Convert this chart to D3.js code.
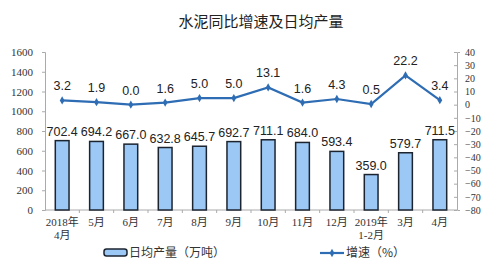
<!DOCTYPE html>
<html>
<head>
<meta charset="utf-8">
<script src="https://cdn.jsdelivr.net/npm/d3@7"></script>
<style>
  body { margin: 0; background: #fff; }
  svg { display: block; }
</style>
</head>
<body>
<div id="chart"></div>
<script>
// data
var categories = ["2018年|4月", "5月", "6月", "7月", "8月", "9月", "10月", "11月", "12月", "2019年|1-2月", "3月", "4月"];
var output = [702.4, 694.2, 667.0, 632.8, 645.7, 692.7, 711.1, 684.0, 593.4, 359.0, 579.7, 711.5];
var growth = [3.2, 1.9, 0.0, 1.6, 5.0, 5.0, 13.1, 1.6, 4.3, 0.5, 22.2, 3.4];
var leftTicks = [0, 200, 400, 600, 800, 1000, 1200, 1400, 1600];
var rightTicks = [40, 30, 20, 10, 0, -10, -20, -30, -40, -50, -60, -70, -80];

var width = 481, height = 264;
var plotLeft = 45, plotRight = 457, plotTop = 52, plotBottom = 210;

var serif = "'Liberation Serif', 'Noto Sans CJK SC', serif";
var sans = "'Liberation Sans', Arial, sans-serif";
var cjk = "'Noto Sans CJK SC', sans-serif";

var svg = d3.select("#chart").append("svg")
    .attr("width", width)
    .attr("height", height);

svg.append("text")
  .attr("x", 261).attr("y", 27)
  .attr("text-anchor", "middle")
  .attr("font-family", cjk)
  .attr("font-size", "15px")
  .attr("fill", "#222")
  .text("水泥同比增速及日均产量");

var x = d3.scaleBand().domain(categories).range([plotLeft, plotRight]).paddingInner(0.6).paddingOuter(0.3);
var y = d3.scaleLinear().domain([0, 1600]).range([plotBottom, plotTop]);
var y2 = d3.scaleLinear().domain([-80, 40]).range([plotBottom, plotTop]);

// left axis
var yAxis = svg.append("g")
    .attr("transform", "translate(" + plotLeft + ",0)")
    .call(d3.axisLeft(y).tickValues(leftTicks).tickFormat(d3.format("d")).tickSize(3).tickPadding(9));
yAxis.select(".domain").attr("stroke", "#aaa");
yAxis.selectAll(".tick line").attr("stroke", "#aaa");
yAxis.selectAll("text").attr("font-family", serif).attr("font-size", "11px").attr("fill", "#333");

// right axis
var yAxis2 = svg.append("g")
    .attr("transform", "translate(" + plotRight + ",0)")
    .call(d3.axisRight(y2).tickValues(rightTicks).tickFormat(d3.format("d")).tickSize(3).tickPadding(5));
yAxis2.select(".domain").attr("stroke", "#aaa");
yAxis2.selectAll(".tick line").attr("stroke", "#aaa").attr("x2", -3);
yAxis2.selectAll("text").attr("font-family", serif).attr("font-size", "10px").attr("fill", "#333");

// bottom axis line
svg.append("line")
  .attr("x1", plotLeft).attr("x2", plotRight)
  .attr("y1", plotBottom).attr("y2", plotBottom)
  .attr("stroke", "#aaa");

var step = x.step();
svg.selectAll(".xtick")
  .data(categories.slice(1))
  .enter().append("line")
  .attr("x1", function(d) { return x(d) - step * 0.3; })
  .attr("x2", function(d) { return x(d) - step * 0.3; })
  .attr("y1", plotBottom).attr("y2", plotBottom + 3)
  .attr("stroke", "#aaa");

// category labels
var xl = svg.selectAll(".xlabel")
  .data(categories)
  .enter().append("text")
  .attr("text-anchor", "middle")
  .attr("font-family", serif)
  .attr("font-size", "11px")
  .attr("fill", "#333");
xl.each(function(d) {
  var parts = d.split("|");
  var t = d3.select(this);
  parts.forEach(function(p, i) {
    t.append("tspan")
      .attr("x", x(d) + x.bandwidth() / 2)
      .attr("y", 226 + i * 13)
      .text(p);
  });
});

// bars
svg.selectAll(".bar")
  .data(output)
  .enter().append("rect")
  .attr("x", function(d, i) { return x(categories[i]); })
  .attr("y", function(d) { return y(d); })
  .attr("width", x.bandwidth())
  .attr("height", function(d) { return plotBottom - y(d); })
  .attr("fill", "#9cc8f5")
  .attr("stroke", "#1c2430")
  .attr("stroke-width", 1.5);

svg.selectAll(".barlabel")
  .data(output)
  .enter().append("text")
  .attr("x", function(d, i) { return x(categories[i]) + x.bandwidth() / 2; })
  .attr("y", function(d) { return y(d) - 5; })
  .attr("text-anchor", "middle")
  .attr("font-family", sans)
  .attr("font-size", "12.5px")
  .attr("fill", "#222")
  .text(function(d) { return d.toFixed(1); });

// growth line
var line = d3.line()
  .x(function(d, i) { return x(categories[i]) + x.bandwidth() / 2; })
  .y(function(d) { return y2(d); });

svg.append("path")
  .datum(growth)
  .attr("d", line)
  .attr("fill", "none")
  .attr("stroke", "#2e6db4")
  .attr("stroke-width", 2.2);

svg.selectAll(".pt")
  .data(growth)
  .enter().append("path")
  .attr("transform", function(d, i) { return "translate(" + (x(categories[i]) + x.bandwidth() / 2) + "," + y2(d) + ")"; })
  .attr("d", d3.symbol().type(d3.symbolDiamond).size(20))
  .attr("fill", "#2e6db4");

svg.selectAll(".ptlabel")
  .data(growth)
  .enter().append("text")
  .attr("x", function(d, i) { return x(categories[i]) + x.bandwidth() / 2; })
  .attr("y", function(d) { return y2(d) - 10; })
  .attr("text-anchor", "middle")
  .attr("font-family", sans)
  .attr("font-size", "12.5px")
  .attr("fill", "#222")
  .text(function(d) { return d.toFixed(1); });

// legend
var lg = svg.append("g");
lg.append("rect")
  .attr("x", 104).attr("y", 249)
  .attr("width", 23).attr("height", 7)
  .attr("rx", 2.5)
  .attr("fill", "#9cc8f5")
  .attr("stroke", "#1c2430")
  .attr("stroke-width", 1.5);
lg.append("text")
  .attr("x", 129).attr("y", 257)
  .attr("font-family", cjk)
  .attr("font-size", "12px")
  .attr("fill", "#333")
  .text("日均产量（万吨）");
lg.append("line")
  .attr("x1", 320).attr("x2", 344)
  .attr("y1", 253).attr("y2", 253)
  .attr("stroke", "#2e6db4").attr("stroke-width", 2.2);
lg.append("path")
  .attr("transform", "translate(332,253)")
  .attr("d", d3.symbol().type(d3.symbolDiamond).size(20))
  .attr("fill", "#2e6db4");
lg.append("text")
  .attr("x", 346).attr("y", 257)
  .attr("font-family", cjk)
  .attr("font-size", "12px")
  .attr("fill", "#333")
  .text("增速（%）");
</script>
</body>
</html>
